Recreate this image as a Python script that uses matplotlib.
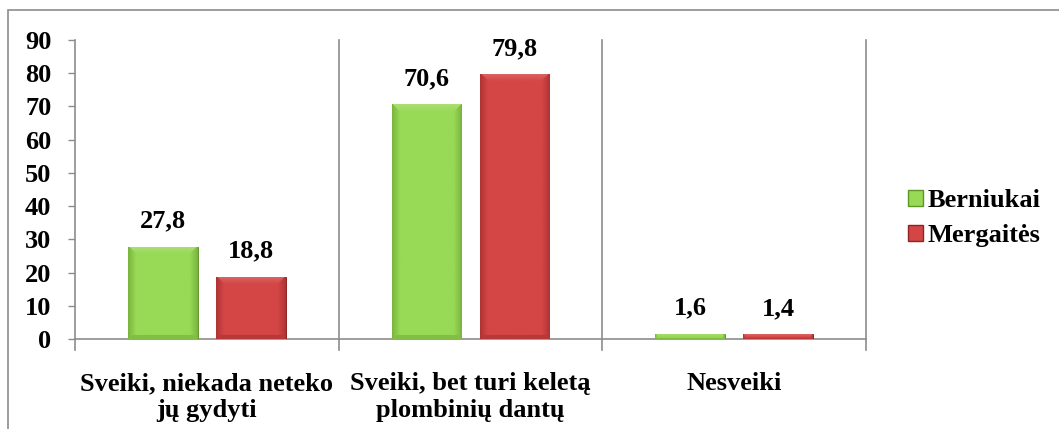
import matplotlib
matplotlib.use("Agg")
import matplotlib.pyplot as plt
import matplotlib.patches as mpatches
import matplotlib.colors as mcolors
import numpy as np

categories = ["Sveiki, niekada neteko\njų gydyti", "Sveiki, bet turi keletą\nplombinių dantų", "Nesveiki"]
berniukai = [27.8, 70.6, 1.6]
mergaites = [18.8, 79.8, 1.4]
series_names = ["Berniukai", "Mergaitės"]
yticks = [0, 10, 20, 30, 40, 50, 60, 70, 80, 90]

GREEN = "#98d956"
GREEN_DARK = "#5f9628"
RED = "#d44646"
RED_DARK = "#8e2323"

plt.rcParams.update({
    "font.family": ["Liberation Serif", "DejaVu Serif"],
    "font.weight": "bold",
    "font.size": 19,
})

W, H = 1059, 429
AX_L, AX_R, AX_T, AX_B = 75, 866, 40, 339
fig = plt.figure(figsize=(W / 100, H / 100), dpi=100)
ax = fig.add_axes([AX_L / W, 1 - AX_B / H, (AX_R - AX_L) / W, (AX_B - AX_T) / H])

# outer chart frame
fig.patches.append(mpatches.Rectangle((8 / W, -0.05), 1.2, 1 - 10 / H + 0.05,
                                      transform=fig.transFigure, fill=False,
                                      edgecolor="#8c8c8c", linewidth=1.2))

x = np.arange(len(categories))
width = 0.265
offset = 0.167
px_per_x = (AX_R - AX_L) / 3
px_per_y = (AX_B - AX_T) / 90


def bevel_image(wpx, hpx, light, dark, bev=7):
    wpx, hpx = max(int(wpx), 2), max(int(hpx), 2)
    u = np.arange(wpx)[None, :] + 0.5
    v = np.arange(hpx)[:, None] + 0.5
    c_l = np.array(mcolors.to_rgb(light))
    c_d = np.array(mcolors.to_rgb(dark))
    side = np.minimum(u, wpx - u) * np.ones_like(v)
    top = v * np.ones_like(u)
    bot = (hpx - v) * np.ones_like(u)
    img = np.ones((hpx, wpx, 3)) * c_l
    # sides: gradient to darker at the edge
    t = np.clip(side / bev, 0, 1)[..., None]
    img = c_d + (img - c_d) * (0.45 + 0.55 * t)
    # top facet: slightly lighter
    mask = (top < bev) & (top < side)
    tt = (top / bev)[mask][:, None]
    c_hi = c_l + (1 - c_l) * 0.18
    img[mask] = c_hi * (1 - tt) + c_l * tt
    # bottom facet: mildly darker
    maskb = (bot < bev * 0.5) & (bot < side)
    img[maskb] = c_l * 0.6 + c_d * 0.4
    return np.clip(img, 0, 1)


def bevel_bar(ax, xc, h, light, dark):
    bar = ax.bar(xc, h, width, color=light, edgecolor=dark, linewidth=0.7, zorder=3)[0]
    img = bevel_image(width * px_per_x, h * px_per_y, light, dark,
                      bev=min(8, h * px_per_y / 2))
    im = ax.imshow(img, extent=[xc - width / 2, xc + width / 2, 0, h], origin="upper",
                   aspect="auto", zorder=3.5, interpolation="bilinear")
    im.set_clip_path(bar)
    return bar


def label(ax, xc, val):
    ax.annotate(f"{val:.1f}".replace(".", ","), (xc, val), xytext=(0, 10),
                textcoords="offset points", ha="center", va="bottom",
                fontsize=19, fontweight="bold")


for i in range(len(categories)):
    bevel_bar(ax, x[i] - offset, berniukai[i], GREEN, GREEN_DARK)
    bevel_bar(ax, x[i] + offset, mergaites[i], RED, RED_DARK)
    label(ax, x[i] - offset, berniukai[i])
    label(ax, x[i] + offset, mergaites[i])

ax.set_xlim(-0.5, len(categories) - 0.5)
ax.set_ylim(0, 90)
ax.set_yticks(yticks)
ax.set_yticklabels([str(t) for t in yticks], fontsize=19, fontweight="bold")
ax.set_xticks(x)
ax.set_xticklabels(categories, fontsize=19, fontweight="bold", linespacing=1.2)
ax.tick_params(axis="x", length=0, pad=24)
ax.tick_params(axis="y", length=5, width=1, color="#8c8c8c", pad=12, direction="out")

# category separators
for b in [0.5, 1.5, 2.5]:
    ax.plot([b, b], [-3.3, 90], color="#8c8c8c", linewidth=1.2, clip_on=False, zorder=1)
ax.plot([-0.5, -0.5], [-3.3, 0], color="#8c8c8c", linewidth=1.2, clip_on=False, zorder=1)

for s in ["top", "right"]:
    ax.spines[s].set_visible(False)
for s in ["left", "bottom"]:
    ax.spines[s].set_color("#8c8c8c")
    ax.spines[s].set_linewidth(1.2)

handles = [mpatches.Patch(facecolor=GREEN, edgecolor=GREEN_DARK),
           mpatches.Patch(facecolor=RED, edgecolor=RED_DARK)]
fig.legend(handles, series_names, loc="center left", bbox_to_anchor=(895 / W, 1 - 218 / H),
           frameon=False, fontsize=19, handlelength=0.55, handleheight=0.55,
           handletextpad=0.2, labelspacing=0.45, borderpad=0)

fig.savefig("out.png", dpi=100, facecolor="white")
